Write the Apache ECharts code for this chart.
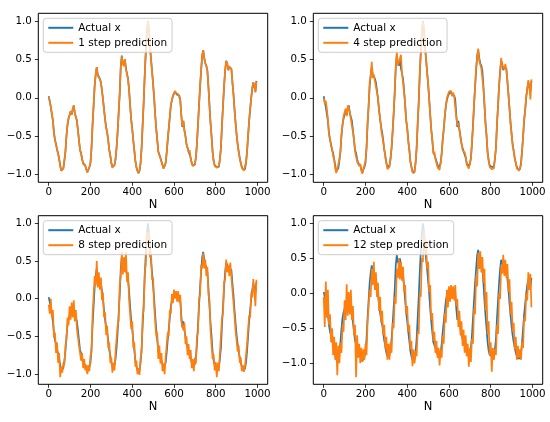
<!DOCTYPE html>
<html><head><meta charset="utf-8">
<script src="https://cdn.jsdelivr.net/npm/echarts@6/dist/echarts.min.js"></script>
<style>html,body{margin:0;padding:0;background:#fff}#c{width:550px;height:422px}</style>
</head><body><div id="c"></div>
<script>
// sample index N (every 5th sample)
const N = Array.from({length: 200}, (_, i) => i * 5);
const xTicks = [0, 200, 400, 600, 800, 1000];
const yTicks = [-1.0, -0.5, 0.0, 0.5, 1.0];
const legendNames = ['1 step prediction', '4 step prediction', '8 step prediction', '12 step prediction'];

const actual = [
0.02,-0.05,-0.12,-0.10,-0.30,-0.45,-0.55,-0.60,-0.68,-0.72,
-0.80,-0.88,-0.95,-0.95,-0.92,-0.82,-0.70,-0.50,-0.35,-0.27,
-0.22,-0.18,-0.22,-0.15,-0.10,-0.20,-0.25,-0.30,-0.42,-0.55,
-0.68,-0.72,-0.80,-0.85,-0.87,-0.88,-0.93,-0.97,-0.95,-0.90,
-0.85,-0.65,-0.35,-0.10,0.15,0.30,0.40,0.30,0.28,0.25,
0.20,0.10,-0.02,-0.15,-0.28,-0.38,-0.45,-0.55,-0.68,-0.75,
-0.85,-0.90,-0.92,-0.88,-0.80,-0.65,-0.45,-0.20,0.05,0.40,
0.55,0.45,0.42,0.50,0.38,0.36,0.25,0.10,-0.10,-0.28,
-0.40,-0.55,-0.68,-0.82,-0.90,-0.95,-0.98,-0.95,-0.85,-0.65,
-0.35,-0.05,0.30,0.60,0.85,1.00,0.90,0.68,0.50,0.35,
0.18,0.00,-0.22,-0.40,-0.55,-0.70,-0.72,-0.78,-0.80,-0.87,
-0.92,-0.90,-0.85,-0.72,-0.55,-0.40,-0.25,-0.10,-0.03,0.02,
0.05,0.08,0.06,0.04,0.05,0.03,-0.02,-0.22,-0.38,-0.30,
-0.42,-0.50,-0.60,-0.65,-0.70,-0.68,-0.78,-0.85,-0.88,-0.90,
-0.87,-0.78,-0.60,-0.35,-0.10,0.15,0.35,0.55,0.62,0.52,
0.45,0.42,0.35,0.15,-0.10,-0.32,-0.50,-0.70,-0.82,-0.88,
-0.90,-0.90,-0.92,-0.90,-0.80,-0.65,-0.35,-0.10,0.15,0.35,
0.48,0.45,0.36,0.40,0.42,0.38,0.20,0.05,-0.15,-0.32,
-0.48,-0.60,-0.70,-0.78,-0.85,-0.90,-0.93,-0.94,-0.93,-0.85,
-0.70,-0.50,-0.30,-0.15,0.00,0.12,0.20,0.18,0.08,0.22];

const pred1 = [
0.01,-0.04,-0.12,-0.11,-0.29,-0.46,-0.55,-0.61,-0.67,-0.73,
-0.80,-0.89,-0.95,-0.94,-0.92,-0.81,-0.70,-0.49,-0.35,-0.26,
-0.23,-0.17,-0.22,-0.14,-0.10,-0.21,-0.24,-0.31,-0.42,-0.56,
-0.68,-0.73,-0.80,-0.86,-0.86,-0.89,-0.93,-0.97,-0.94,-0.90,
-0.84,-0.65,-0.34,-0.10,0.16,0.31,0.40,0.29,0.28,0.24,
0.20,0.09,-0.02,-0.16,-0.28,-0.39,-0.45,-0.56,-0.68,-0.76,
-0.85,-0.91,-0.92,-0.87,-0.80,-0.64,-0.45,-0.19,0.06,0.40,
0.54,0.46,0.41,0.50,0.37,0.36,0.24,0.10,-0.11,-0.28,
-0.41,-0.55,-0.69,-0.82,-0.91,-0.95,-0.98,-0.94,-0.85,-0.64,
-0.34,-0.05,0.31,0.60,0.86,0.99,0.90,0.67,0.50,0.34,
0.18,-0.01,-0.22,-0.41,-0.55,-0.71,-0.72,-0.79,-0.80,-0.88,
-0.92,-0.89,-0.85,-0.71,-0.55,-0.39,-0.25,-0.09,-0.03,0.03,
0.05,0.09,0.06,0.05,0.05,0.04,-0.03,-0.22,-0.37,-0.30,
-0.43,-0.50,-0.61,-0.65,-0.71,-0.68,-0.79,-0.85,-0.89,-0.90,
-0.86,-0.78,-0.59,-0.35,-0.09,0.15,0.36,0.55,0.62,0.51,
0.45,0.41,0.35,0.14,-0.10,-0.33,-0.50,-0.71,-0.82,-0.89,
-0.90,-0.91,-0.92,-0.89,-0.80,-0.64,-0.35,-0.09,0.15,0.36,
0.48,0.44,0.36,0.41,0.42,0.37,0.20,0.04,-0.15,-0.33,
-0.48,-0.61,-0.70,-0.79,-0.85,-0.91,-0.93,-0.95,-0.93,-0.84,
-0.70,-0.49,-0.30,-0.14,0.00,0.13,0.20,0.17,0.07,0.21];

const pred4 = [
0.00,-0.08,-0.04,-0.14,-0.27,-0.48,-0.53,-0.63,-0.66,-0.76,
-0.80,-0.92,-0.98,-0.93,-0.94,-0.80,-0.70,-0.47,-0.36,-0.24,
-0.25,-0.14,-0.24,-0.10,-0.13,-0.18,-0.28,-0.28,-0.45,-0.54,
-0.70,-0.70,-0.83,-0.84,-0.89,-0.86,-0.95,-0.99,-0.93,-0.91,
-0.82,-0.66,-0.32,-0.12,0.20,0.28,0.47,0.26,0.30,0.22,
0.22,0.07,0.00,-0.18,-0.26,-0.41,-0.43,-0.58,-0.66,-0.78,
-0.84,-0.93,-0.91,-0.90,-0.78,-0.66,-0.43,-0.22,0.10,0.38,
0.60,0.42,0.46,0.48,0.56,0.32,0.30,0.07,-0.07,-0.31,
-0.38,-0.58,-0.66,-0.84,-0.89,-0.97,-0.99,-0.97,-0.84,-0.67,
-0.32,-0.08,0.33,0.57,0.88,0.99,0.92,0.65,0.53,0.32,
0.20,-0.03,-0.20,-0.43,-0.53,-0.73,-0.70,-0.80,-0.79,-0.90,
-0.91,-0.94,-0.84,-0.74,-0.53,-0.42,-0.22,-0.12,0.00,0.00,
0.08,0.06,0.09,0.02,0.07,0.01,0.00,-0.25,-0.36,-0.33,
-0.40,-0.53,-0.58,-0.68,-0.68,-0.71,-0.76,-0.87,-0.86,-0.92,
-0.85,-0.80,-0.58,-0.38,-0.07,0.12,0.40,0.52,0.64,0.48,
0.48,0.38,0.38,0.12,-0.07,-0.35,-0.48,-0.73,-0.80,-0.90,
-0.89,-0.93,-0.91,-0.92,-0.78,-0.66,-0.32,-0.12,0.18,0.32,
0.52,0.42,0.40,0.37,0.44,0.35,0.23,0.02,-0.12,-0.35,
-0.46,-0.63,-0.68,-0.80,-0.84,-0.92,-0.92,-0.95,-0.92,-0.87,
-0.68,-0.52,-0.28,-0.17,0.03,0.10,0.23,0.15,-0.02,0.24];

const pred8 = [
-0.08,-0.20,0.00,-0.25,-0.15,-0.52,-0.45,-0.72,-0.58,-0.85,
-0.72,-1.04,-0.90,-0.98,-0.85,-0.88,-0.62,-0.55,-0.25,-0.35,
-0.10,-0.28,-0.05,-0.25,-0.02,-0.30,-0.15,-0.40,-0.38,-0.62,
-0.60,-0.82,-0.72,-0.92,-0.80,-0.95,-0.88,-1.00,-0.88,-0.96,
-0.75,-0.72,-0.22,-0.20,0.30,0.18,0.50,0.15,0.35,0.12,
0.28,-0.02,0.08,-0.25,-0.18,-0.48,-0.36,-0.65,-0.58,-0.85,
-0.78,-0.98,-0.85,-0.95,-0.70,-0.72,-0.35,-0.30,0.18,0.30,
0.62,0.32,0.55,0.35,0.62,0.22,0.35,-0.02,0.00,-0.40,
-0.30,-0.65,-0.58,-0.90,-0.82,-1.00,-0.92,-1.01,-0.78,-0.72,
-0.22,-0.15,0.35,0.45,0.88,0.82,0.90,0.55,0.60,0.25,
0.28,-0.10,-0.12,-0.50,-0.45,-0.80,-0.62,-0.86,-0.72,-0.96,
-0.86,-1.00,-0.78,-0.80,-0.45,-0.50,-0.15,-0.20,0.06,-0.06,
0.12,0.00,0.10,-0.04,0.10,-0.05,0.05,-0.30,-0.28,-0.42,
-0.32,-0.60,-0.50,-0.75,-0.60,-0.80,-0.68,-0.92,-0.80,-0.96,
-0.78,-0.86,-0.50,-0.45,0.00,0.05,0.45,0.40,0.60,0.40,
0.52,0.30,0.42,0.05,0.00,-0.42,-0.40,-0.80,-0.74,-0.95,
-0.84,-1.04,-0.85,-0.96,-0.72,-0.72,-0.25,-0.20,0.22,0.25,
0.52,0.35,0.45,0.30,0.48,0.28,0.28,-0.05,-0.05,-0.42,
-0.40,-0.70,-0.62,-0.85,-0.78,-0.96,-0.88,-0.97,-0.90,-0.90,
-0.60,-0.58,-0.22,-0.25,0.08,0.02,0.26,0.10,-0.10,0.25];

const pred12 = [
-0.05,-0.48,0.17,-0.35,0.05,-0.45,-0.30,-0.70,-0.50,-0.88,
-0.62,-0.95,-0.70,-1.17,-0.75,-1.00,-0.70,-0.85,-0.45,-0.55,
-0.10,-0.38,0.13,-0.32,0.02,-0.30,0.05,-0.38,-0.18,-0.60,
-0.45,-1.20,-0.60,-0.92,-0.72,-1.00,-0.78,-0.98,-0.80,-0.95,
-0.72,-0.88,-0.42,-0.40,0.05,-0.05,0.35,0.12,0.45,0.05,
0.30,-0.05,0.15,-0.25,-0.05,-0.42,-0.25,-0.60,-0.45,-0.80,
-0.62,-0.95,-0.72,-0.95,-0.70,-0.85,-0.42,-0.50,-0.05,-0.15,
0.35,0.22,0.50,0.20,0.45,0.18,0.38,0.02,0.12,-0.30,
-0.18,-0.55,-0.45,-0.80,-0.68,-1.04,-0.80,-1.00,-0.82,-0.90,
-0.55,-0.58,0.00,-0.05,0.50,0.45,0.90,0.62,0.75,0.35,
0.45,0.02,0.12,-0.38,-0.28,-0.68,-0.55,-0.85,-0.68,-0.92,
-0.78,-1.03,-0.80,-0.92,-0.60,-0.72,-0.28,-0.42,0.05,-0.20,
0.10,-0.12,0.12,-0.08,0.10,-0.10,0.12,-0.18,-0.08,-0.48,
-0.25,-0.60,-0.40,-0.75,-0.52,-0.85,-0.60,-0.90,-0.72,-1.05,
-0.78,-0.98,-0.65,-0.72,-0.22,-0.30,0.25,0.10,0.58,0.35,
0.60,0.30,0.52,0.15,0.35,-0.25,0.02,-0.58,-0.40,-0.88,
-0.70,-1.12,-0.78,-0.95,-0.80,-0.88,-0.45,-0.58,0.00,-0.08,
0.40,0.28,0.55,0.25,0.48,0.22,0.42,0.02,0.20,-0.30,
-0.12,-0.55,-0.42,-0.80,-0.62,-0.95,-0.75,-0.92,-0.80,-0.95,
-0.70,-0.78,-0.35,-0.40,0.00,-0.10,0.30,0.05,0.28,-0.20];

const preds = [pred1, pred4, pred8, pred12];
const BLUE = '#1f77b4', ORANGE = '#ff7f0e';
const FONT = 'DejaVu Sans';

const panels = [
  {left: 38.3, top: 13.3, height: 169, ymin: -1.1, ymax: 1.1},
  {left: 313.3, top: 13.3, height: 169, ymin: -1.1, ymax: 1.1},
  {left: 38.3, top: 215.7, height: 168.6, ymin: -1.135, ymax: 1.1},
  {left: 313.3, top: 215.7, height: 168.6, ymin: -1.3, ymax: 1.11}
];

const pairs = arr => arr.map((v, i) => [N[i], v]);
const fmtY = v => (v < 0 ? '\u2212' : '') + Math.abs(v).toFixed(1);
const fmtX = v => String(Math.round(v));

const grid = [], xAxis = [], yAxis = [], series = [], legend = [];
panels.forEach((p, k) => {
  grid.push({left: p.left, top: p.top, width: 229.4, height: p.height,
    show: true, borderColor: '#000', borderWidth: 1, backgroundColor: 'transparent', containLabel: false});
  xAxis.push({type: 'value', gridIndex: k, min: -49.95, max: 1048.95, position: 'bottom',
    name: 'N', nameLocation: 'middle', nameGap: 17,
    nameTextStyle: {fontFamily: FONT, fontSize: 11.5, color: '#000'},
    axisLine: {show: false, onZero: false}, splitLine: {show: false},
    axisTick: {show: true, inside: false, customValues: xTicks, length: 3.5, lineStyle: {color: '#000', width: 0.8}},
    axisLabel: {customValues: xTicks, margin: 5, formatter: fmtX, fontFamily: FONT, fontSize: 10.3, color: '#000'}
  });
  yAxis.push({type: 'value', gridIndex: k, min: p.ymin, max: p.ymax, position: 'left',
    axisLine: {show: false, onZero: false}, splitLine: {show: false},
    axisTick: {show: true, inside: false, customValues: yTicks, length: 3.5, lineStyle: {color: '#000', width: 0.8}},
    axisLabel: {customValues: yTicks, margin: 6.5, formatter: fmtY, fontFamily: FONT, fontSize: 10.3, color: '#000'}
  });
  series.push({name: 'Actual x', type: 'line', xAxisIndex: k, yAxisIndex: k, data: pairs(actual),
    showSymbol: false, symbol: 'none', animation: false, lineStyle: {color: BLUE, width: 1.7}, itemStyle: {color: BLUE}});
  series.push({name: legendNames[k], type: 'line', xAxisIndex: k, yAxisIndex: k, data: pairs(preds[k]),
    showSymbol: false, symbol: 'none', animation: false, lineStyle: {color: ORANGE, width: 1.7}, itemStyle: {color: ORANGE}});
  legend.push({data: ['Actual x', legendNames[k]], orient: 'vertical',
    left: p.left + 5, top: p.top + 5, icon: 'rect', itemWidth: 25, itemHeight: 2,
    itemGap: 4, padding: [4, 5, 4, 5], backgroundColor: 'rgba(255,255,255,0.8)',
    borderColor: '#cccccc', borderWidth: 1, borderRadius: 3,
    textStyle: {fontFamily: FONT, fontSize: 10.5, color: '#000'}, selectedMode: false});
});

const chart = echarts.init(document.getElementById('c'), null, {renderer: 'canvas'});
chart.setOption({animation: false, backgroundColor: '#fff', grid, xAxis, yAxis, series, legend});
</script></body></html>
